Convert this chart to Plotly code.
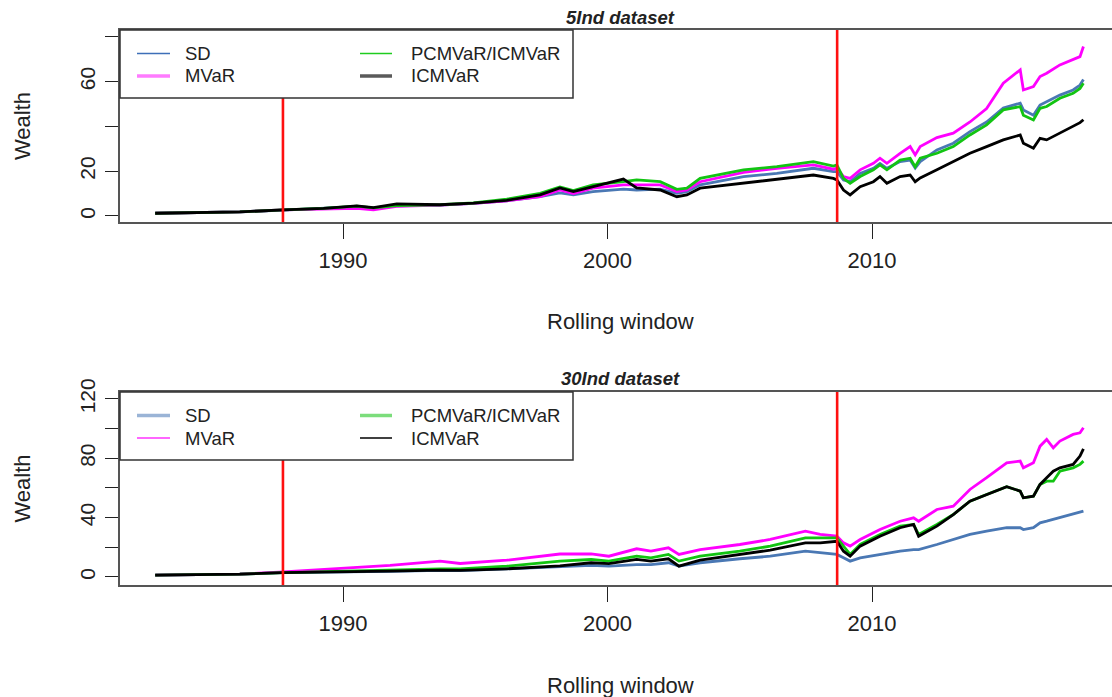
import plotly.graph_objects as go

# ---------------- data ----------------
series_names = ["SD", "MVaR", "PCMVaR/ICMVaR", "ICMVaR"]

years_5ind = [1982.9, 1984.85, 1986.1, 1987.74, 1989.26, 1990.52, 1991.15, 1992.03, 1993.67, 1994.93,
              1996.19, 1997.45, 1998.2, 1998.71, 1999.45, 2000.6, 2001.1, 2001.99, 2002.62, 2003.0,
              2003.5, 2005.14, 2006.4, 2007.78, 2008.54, 2008.67, 2008.92, 2009.17, 2009.55, 2010.05,
              2010.3, 2010.56, 2011.06, 2011.44, 2011.63, 2011.82, 2012.45, 2013.07, 2013.7, 2014.33,
              2014.96, 2015.6, 2015.72, 2016.1, 2016.35, 2016.6, 2017.1, 2017.6, 2017.86, 2017.99]
sd_5ind = [1.2, 1.5, 1.8, 2.6, 3.3, 4.2, 3.3, 4.5, 4.8, 5.6, 6.8, 8.6, 10.3, 9.4, 10.9, 12.0, 11.6, 12.0, 10.1, 10.9,
           13.9, 17.6, 19.0, 21.3, 19.8, 19.8, 16.1, 15.3, 19.0, 21.3, 23.5, 21.3, 24.3, 25.0, 21.4, 24.3, 29.5, 32.5,
           37.7, 42.0, 48.2, 50.4, 47.4, 45.0, 49.6, 51.0, 54.0, 56.3, 58.5, 61.0]
mvar_5ind = [1.2, 1.5, 1.8, 2.7, 3.2, 3.4, 2.7, 4.3, 4.9, 5.6, 6.8, 8.6, 11.6, 10.0, 12.4, 13.9, 13.9, 13.9, 10.9, 11.6,
             15.3, 19.5, 21.3, 22.8, 20.9, 21.5, 17.6, 16.8, 20.6, 23.5, 25.8, 23.5, 28.0, 31.0, 27.3, 31.0, 35.0, 37.0,
             42.0, 48.0, 59.3, 65.3, 56.3, 57.8, 62.3, 63.8, 67.5, 69.7, 71.2, 75.7]
pcmvar_5ind = [1.2, 1.5, 1.8, 2.7, 3.4, 4.4, 3.6, 4.6, 5.0, 5.8, 7.5, 10.1, 13.0, 11.3, 13.9, 15.3, 16.1, 15.3, 11.9, 12.4,
               16.8, 20.6, 22.0, 24.3, 22.3, 22.8, 16.8, 14.6, 17.6, 20.6, 22.8, 20.6, 25.0, 25.8, 22.0, 25.8, 28.0, 31.0,
               36.2, 40.7, 47.4, 48.9, 45.0, 42.9, 48.1, 48.9, 52.6, 54.8, 57.0, 59.3]
icmvar_5ind = [1.2, 1.5, 1.8, 2.7, 3.4, 4.5, 3.7, 5.4, 5.0, 5.7, 7.0, 9.4, 12.5, 10.9, 13.1, 16.5, 12.5, 11.6, 8.6, 9.4,
               12.4, 14.6, 16.4, 18.3, 16.8, 16.1, 11.6, 9.4, 13.1, 15.3, 17.6, 14.6, 17.6, 18.3, 15.3, 17.0, 20.6, 24.3,
               28.0, 31.0, 34.0, 36.2, 32.5, 30.3, 34.7, 34.0, 37.0, 40.0, 41.7, 43.0]

years_30ind = [1982.9, 1984.85, 1986.1, 1987.74, 1989.26, 1990.52, 1991.78, 1993.67, 1994.43, 1996.19,
               1998.2, 1999.38, 2000.05, 2001.1, 2001.64, 2002.3, 2002.7, 2003.5, 2005.0, 2006.15,
               2007.48, 2008.04, 2008.67, 2008.92, 2009.17, 2009.55, 2010.3, 2011.06, 2011.57, 2011.76,
               2012.45, 2013.07, 2013.7, 2014.33, 2015.09, 2015.6, 2015.72, 2016.1, 2016.35, 2016.6,
               2016.85, 2017.1, 2017.6, 2017.86, 2017.99]
sd_30ind = [1.2, 1.5, 1.9, 3.0, 3.2, 3.6, 3.8, 4.4, 4.3, 5.5, 6.8, 7.8, 7.3, 8.4, 8.4, 9.6, 7.3, 9.6, 12.3, 14.0,
            17.4, 16.3, 15.2, 12.9, 10.7, 12.9, 15.2, 17.4, 18.5, 18.5, 21.9, 25.3, 28.7, 30.9, 33.2, 33.2, 32.0, 33.2,
            36.5, 37.6, 38.8, 39.9, 42.1, 43.3, 44.4]
mvar_30ind = [1.2, 1.5, 1.9, 3.5, 5.1, 6.9, 7.8, 10.7, 9.1, 11.3, 15.5, 15.6, 14.0, 19.0, 17.4, 19.7, 15.2, 18.5, 21.9,
              25.3, 30.9, 28.7, 27.5, 23.0, 20.8, 25.3, 32.0, 37.6, 39.9, 37.6, 45.5, 47.7, 59.0, 66.9, 77.0, 78.1,
              73.6, 77.0, 88.2, 92.7, 87.1, 91.6, 96.1, 97.2, 100.6]
pcmvar_30ind = [1.2, 1.5, 1.9, 3.0, 3.7, 4.2, 4.6, 5.5, 5.5, 7.3, 10.7, 11.8, 10.7, 14.0, 12.9, 15.2, 10.7, 14.0, 17.4,
                20.8, 26.4, 26.4, 26.4, 20.8, 15.2, 21.9, 28.7, 34.3, 35.4, 28.7, 35.4, 42.1, 51.1, 55.6, 60.8, 57.9,
                53.4, 54.5, 62.4, 64.6, 64.6, 71.3, 73.6, 75.9, 78.1]
icmvar_30ind = [1.2, 1.5, 1.9, 3.0, 3.2, 3.7, 3.9, 4.6, 4.4, 5.5, 7.5, 9.6, 9.0, 11.8, 10.7, 12.3, 7.3, 11.3, 15.2,
                18.1, 23.0, 23.0, 24.1, 17.4, 14.0, 20.8, 27.5, 33.2, 35.4, 27.5, 34.3, 42.1, 51.1, 55.6, 60.8, 57.9,
                53.4, 54.5, 62.4, 66.9, 71.3, 73.6, 75.9, 81.5, 86.4]

crisis_years = [1987.73, 2008.68]
x_tick_vals = [1990, 2000, 2010]
y_tick_vals_5ind = [0, 20, 40, 60, 80]
y_tick_text_5ind = ["0", "20", "", "60", ""]
y_tick_vals_30ind = [0, 20, 40, 60, 80, 100, 120]
y_tick_text_30ind = ["0", "", "40", "", "80", "", "120"]
panel_titles = ["5Ind dataset", "30Ind dataset"]

# ---------------- style ----------------
W, H = 1112, 697
FONT = "Liberation Sans, Arial, Helvetica, sans-serif"
line_colors = ["#4A78B4", "#FF00FF", "#12C412", "#000000"]
legend_colors = [["#3D6FB8", "#FF7BFF", "#1ECC1E", "#5A5A5A"],
                 ["#9AB4D6", "#FF33FF", "#7CDD7C", "#000000"]]
legend_widths = [[1.5, 3.5, 1.5, 3.5], [3.5, 1.5, 3.5, 1.5]]

def px(x):
    return x / W

def py(y):
    return 1 - y / H

panels = [
    dict(years=years_5ind, vals=[sd_5ind, mvar_5ind, pcmvar_5ind, icmvar_5ind],
         top=30, bottom=222, yrange=[-2.7, 83.1], tv=y_tick_vals_5ind, tt=y_tick_text_5ind),
    dict(years=years_30ind, vals=[sd_30ind, mvar_30ind, pcmvar_30ind, icmvar_30ind],
         top=392, bottom=585, yrange=[-5.4, 124.7], tv=y_tick_vals_30ind, tt=y_tick_text_30ind),
]

fig = go.Figure()
shapes = []
annotations = []
xrange_ = [1981.57, 2019.07]

for i, p in enumerate(panels):
    xa = "x" if i == 0 else "x2"
    ya = "y" if i == 0 else "y2"
    for name, vals, col in zip(series_names, p["vals"], line_colors):
        fig.add_trace(go.Scatter(x=p["years"], y=vals, mode="lines", name=name,
                                 line=dict(color=col, width=2.8), xaxis=xa, yaxis=ya,
                                 showlegend=False))
    axis_key = "" if i == 0 else "2"
    fig.update_layout(**{
        "xaxis" + axis_key: dict(domain=[px(120), 1], range=xrange_, anchor=ya, automargin=False,
                                 tickvals=x_tick_vals, ticks="outside", ticklen=15, tickwidth=1.3,
                                 tickcolor="#222", showline=True, mirror=True, linecolor="#555",
                                 linewidth=2, showgrid=False, zeroline=False,
                                 tickfont=dict(family=FONT, size=22, color="#222"),
                                 ticklabelstandoff=3),
        "yaxis" + axis_key: dict(domain=[py(p["bottom"]), py(p["top"])], range=p["yrange"], anchor=xa,
                                 automargin=False,
                                 tickvals=p["tv"], ticktext=p["tt"], tickangle=-90,
                                 ticks="outside", ticklen=13, tickwidth=1.3, tickcolor="#222",
                                 showline=True, mirror=False, linecolor="#555", linewidth=2,
                                 showgrid=False, zeroline=False,
                                 tickfont=dict(family=FONT, size=21, color="#222"),
                                 ticklabelstandoff=2),
    })
    # crisis lines
    for cy in crisis_years:
        shapes.append(dict(type="line", xref=xa, yref=ya + " domain", x0=cy, x1=cy, y0=0, y1=1,
                           line=dict(color="#FF1010", width=2.6), layer="above"))
    # legend box
    lt, lb = p["top"], p["top"] + 68
    shapes.append(dict(type="rect", xref="paper", yref="paper", x0=px(120), x1=px(573),
                       y0=py(lb), y1=py(lt), fillcolor="white",
                       line=dict(color="#333", width=1.5), layer="above"))
    rows = [lt + 23.5, lt + 46]
    cols = [(137, 170, 183), (360, 392, 409)]
    for k, name in enumerate(series_names):
        c = cols[k // 2]
        r = rows[k % 2]
        shapes.append(dict(type="line", xref="paper", yref="paper", x0=px(c[0]), x1=px(c[1]),
                           y0=py(r), y1=py(r),
                           line=dict(color=legend_colors[i][k], width=legend_widths[i][k]),
                           layer="above"))
        annotations.append(dict(text=name, xref="paper", yref="paper", x=px(c[2]), y=py(r),
                                xanchor="left", yanchor="middle", showarrow=False,
                                font=dict(family=FONT, size=18.5, color="#222")))
    # titles
    annotations.append(dict(text="<b><i>" + panel_titles[i] + "</i></b>", xref="paper", yref="paper",
                            x=px(620), y=py(p["top"] - 13), xanchor="center", yanchor="middle",
                            showarrow=False, font=dict(family=FONT, size=18.5, color="#222")))
    annotations.append(dict(text="Rolling window", xref="paper", yref="paper",
                            x=px(620), y=py(p["bottom"] + 100), xanchor="center", yanchor="middle",
                            showarrow=False, font=dict(family=FONT, size=22, color="#222")))
    annotations.append(dict(text="Wealth", xref="paper", yref="paper", textangle=-90,
                            x=px(22), y=py((p["top"] + p["bottom"]) / 2), xanchor="center",
                            yanchor="middle", showarrow=False,
                            font=dict(family=FONT, size=22, color="#222")))

fig.update_layout(width=W, height=H, margin=dict(l=0, r=0, t=0, b=0, pad=0, autoexpand=False),
                  paper_bgcolor="white", plot_bgcolor="white",
                  shapes=shapes, annotations=annotations, showlegend=False)

fig.write_html("out.html")
